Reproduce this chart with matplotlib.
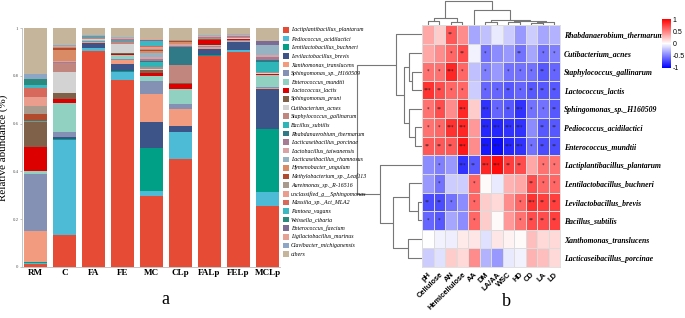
import numpy as np
import matplotlib
matplotlib.use("Agg")
import matplotlib.pyplot as plt
from matplotlib.patches import Rectangle

# ---------------- data: panel a ----------------
samples = ["RM", "C", "FA", "FE", "MC", "CLp", "FALp", "FELp", "MCLp"]
species = [
    "Lactiplantibacillus_plantarum", "Pediococcus_acidilactici", "Lentilactobacillus_buchneri",
    "Levilactobacillus_brevis", "Xanthomonas_translucens", "Sphingomonas_sp._H160509",
    "Enterococcus_mundtii", "Lactococcus_lactis", "Sphingomonas_pruni", "Cutibacterium_acnes",
    "Staphylococcus_gallinarum", "Bacillus_subtilis", "Rhabdanaerobium_thermarum",
    "Lacticaseibacillus_porcinae", "Lactobacillus_taiwanensis", "Lacticaseibacillus_rhamnosus",
    "Hymenobacter_ungulum", "Methylobacterium_sp._Leaf113", "Aureimonas_sp._R-16516",
    "unclassified_g__Sphingomonas", "Massilia_sp._Act_MLA2", "Pantoea_vagans",
    "Weissella_cibaria", "Enterococcus_faecium", "Ligilactobacillus_murinus",
    "Clavibacter_michiganensis", "others",
]
colors = [
    "#E64B35", "#4DBBD5", "#00A087", "#3C5488", "#F39B7F", "#8491B4", "#91D1C2", "#DC0000",
    "#7E6148", "#D3D3D3", "#C1877F", "#2EB5B8", "#2F7A86", "#A57C93", "#D9A3A5", "#95B3C3",
    "#D98B65", "#B24A2E", "#A89A8C", "#EA9D8C", "#D6695B", "#3CB8C2", "#2A8A7E", "#7C6B95",
    "#E5A294", "#8EA6C5", "#C5B59A",
]
RM   = [0.012, 0.003, 0.008, 0.000, 0.127, 0.241, 0.010, 0.100, 0.106, 0.000, 0.000, 0.003, 0.000, 0.000,
        0.000, 0.000, 0.000, 0.030, 0.035, 0.038, 0.036, 0.014, 0.025, 0.000, 0.000, 0.020, 0.192]
C    = [0.134, 0.396, 0.005, 0.007, 0.004, 0.018, 0.121, 0.020, 0.022, 0.089, 0.036, 0.000, 0.000, 0.005,
        0.005, 0.000, 0.046, 0.010, 0.004, 0.003, 0.000, 0.000, 0.000, 0.000, 0.000, 0.004, 0.071]
FA   = [0.902, 0.014, 0.002, 0.020, 0.004, 0.003, 0.004, 0.000, 0.000, 0.006, 0.004, 0.002, 0.002, 0.002,
        0.003, 0.003, 0.000, 0.000, 0.000, 0.000, 0.000, 0.000, 0.000, 0.000, 0.000, 0.000, 0.029]
FE   = [0.784, 0.031, 0.007, 0.029, 0.015, 0.004, 0.018, 0.004, 0.002, 0.038, 0.010, 0.002, 0.002, 0.006,
        0.005, 0.005, 0.000, 0.000, 0.000, 0.000, 0.000, 0.000, 0.000, 0.000, 0.000, 0.000, 0.038]
MC   = [0.298, 0.021, 0.177, 0.109, 0.120, 0.054, 0.021, 0.013, 0.012, 0.004, 0.006, 0.022, 0.004, 0.008,
        0.008, 0.020, 0.008, 0.005, 0.004, 0.006, 0.006, 0.018, 0.003, 0.003, 0.003, 0.003, 0.044]
CLp  = [0.452, 0.112, 0.000, 0.024, 0.075, 0.021, 0.059, 0.022, 0.005, 0.000, 0.075, 0.000, 0.077, 0.004,
        0.005, 0.004, 0.006, 0.004, 0.003, 0.003, 0.000, 0.000, 0.000, 0.000, 0.000, 0.000, 0.049]
FALp = [0.881, 0.000, 0.005, 0.025, 0.011, 0.004, 0.003, 0.020, 0.004, 0.003, 0.004, 0.000, 0.000, 0.004,
        0.004, 0.003, 0.000, 0.000, 0.000, 0.000, 0.000, 0.000, 0.000, 0.000, 0.000, 0.000, 0.029]
FELp = [0.898, 0.008, 0.002, 0.033, 0.003, 0.004, 0.003, 0.002, 0.000, 0.004, 0.005, 0.000, 0.000, 0.004,
        0.005, 0.004, 0.000, 0.000, 0.000, 0.000, 0.000, 0.000, 0.000, 0.000, 0.000, 0.000, 0.025]
MCLp = [0.257, 0.057, 0.264, 0.166, 0.003, 0.006, 0.050, 0.003, 0.003, 0.002, 0.003, 0.045, 0.008, 0.010,
        0.012, 0.038, 0.000, 0.000, 0.000, 0.000, 0.000, 0.000, 0.000, 0.018, 0.000, 0.000, 0.055]
ab_ticks = [0, 0.2, 0.4, 0.6, 0.8, 1]
ab_ticklabels = ["0", "0.2", "0.4", "0.6", "0.8", "1"]

# ---------------- data: panel b ----------------
hm_rows = [
    "Rhabdanaerobium_thermarum", "Cutibacterium_acnes", "Staphylococcus_gallinarum",
    "Lactococcus_lactis", "Sphingomonas_sp._H160509", "Pediococcus_acidilactici",
    "Enterococcus_mundtii", "Lactiplantibacillus_plantarum", "Lentilactobacillus_buchneri",
    "Levilactobacillus_brevis", "Bacillus_subtilis", "Xanthomonas_translucens",
    "Lacticaseibacillus_porcinae",
]
hm_cols = ["pH", "Cellulose", "AN", "Hemicellulose", "AA", "DM", "LA/AA", "WSC", "HD", "CD", "LA", "LD"]
corr = [
    [0.35, 0.20, 0.65, 0.45, -0.35, -0.25, -0.08, -0.20, -0.40, -0.20, -0.35, -0.30],
    [0.35, 0.45, 0.60, 0.70, -0.05, -0.55, -0.45, -0.40, -0.55, -0.35, -0.55, -0.50],
    [0.55, 0.55, 0.85, 0.60, -0.25, -0.50, -0.40, -0.55, -0.55, -0.55, -0.65, -0.60],
    [0.80, 0.70, 0.60, 0.60, -0.20, -0.60, -0.60, -0.65, -0.60, -0.65, -0.65, -0.65],
    [0.55, 0.70, 0.45, 0.85, 0.20, -0.80, -0.60, -0.65, -0.80, -0.55, -0.55, -0.65],
    [0.55, 0.60, 0.80, 0.85, 0.40, -0.85, -0.85, -0.80, -0.80, -0.45, -0.65, -0.65],
    [0.65, 0.65, 0.65, 0.90, 0.45, -0.90, -0.95, -0.85, -0.80, -0.55, -0.70, -0.70],
    [-0.45, -0.50, -0.40, -0.80, -0.65, 0.85, 0.95, 0.75, 0.70, 0.35, 0.55, 0.55],
    [-0.40, -0.55, -0.20, -0.20, 0.60, 0.02, -0.08, 0.30, 0.35, 0.70, 0.60, 0.60],
    [-0.70, -0.70, -0.55, -0.45, 0.60, 0.20, 0.15, 0.45, 0.60, 0.80, 0.75, 0.75],
    [-0.60, -0.65, -0.35, -0.45, 0.60, 0.20, 0.02, 0.40, 0.55, 0.70, 0.70, 0.75],
    [0.00, -0.05, -0.07, 0.08, 0.10, -0.12, 0.10, 0.05, 0.02, 0.25, 0.15, 0.15],
    [-0.20, -0.12, 0.20, 0.15, 0.45, -0.30, -0.40, -0.08, -0.05, 0.30, 0.25, 0.15],
]
stars = [
    ["", "", "**", "", "", "", "", "", "", "", "", ""],
    ["", "", "*", "**", "", "*", "", "", "**", "", "*", "*"],
    ["*", "*", "***", "*", "", "*", "", "*", "*", "*", "**", "*"],
    ["***", "**", "*", "*", "", "*", "*", "**", "*", "**", "**", "**"],
    ["*", "**", "", "***", "", "***", "*", "**", "***", "*", "*", "**"],
    ["*", "*", "***", "***", "", "***", "***", "***", "***", "", "**", "**"],
    ["**", "**", "**", "***", "", "***", "***", "***", "***", "*", "**", "**"],
    ["", "*", "", "***", "**", "***", "***", "**", "**", "", "*", "*"],
    ["", "*", "", "", "*", "", "", "", "", "**", "*", "*"],
    ["**", "**", "*", "", "*", "", "", "", "*", "***", "**", "**"],
    ["*", "*", "", "", "*", "", "", "", "*", "**", "**", "**"],
    ["", "", "", "", "", "", "", "", "", "", "", ""],
    ["", "", "", "", "", "", "", "", "", "", "", ""],
]
# dendrograms as (height, left, right) trees; leaves are row/column indices
row_tree = (65, (26, 0, (18, (13, 1, (10, 2, 3)), (13, 4, (7, 5, 6)))),
            (42, 7, (29, (13, 8, (4, 9, 10)), (14, 11, 12))))
col_tree = (24, (7, (4, 0, 1), (3.5, 2, 3)),
            (15, 4, (5, (3, 5, 6), (4.2, (3.5, 7, 8), (3, (2, 9, 10), 11)))))
cbar_ticks = [1, 0.5, 0, -0.5, -1]

# ---------------- figure ----------------
W, H = 685, 318
fig = plt.figure(figsize=(W / 100, H / 100), dpi=100)

def fax(x0, y0, x1, y1):
    return fig.add_axes([x0 / W, 1 - y1 / H, (x1 - x0) / W, (y1 - y0) / H])

serif = "Liberation Serif"

# ---- panel a ----
ax = fax(22, 28, 280, 267)
data = [RM, C, FA, FE, MC, CLp, FALp, FELp, MCLp]
vals = np.array(data).T  # species x samples
x = np.arange(len(samples))
bottom = np.zeros(len(samples))
for i, sp in enumerate(species):
    ax.bar(x, vals[i], 0.79, bottom=bottom, color=colors[i], linewidth=0, label=sp)
    bottom += vals[i]
ax.set_xlim(-0.47, 8.43)
ax.set_ylim(0, 1)
ax.set_yticks(ab_ticks)
ax.set_yticklabels(ab_ticklabels, fontsize=3.5, color="#555555", family=serif)
ax.set_xticks(x)
ax.set_xticklabels(samples, fontsize=6.5, fontweight="bold", family=serif)
ax.tick_params(axis="y", length=1.5, width=0.4, color="#999999", pad=1)
ax.tick_params(axis="x", length=0, pad=1.5)
for s in ["top", "right"]:
    ax.spines[s].set_visible(False)
for s in ["left", "bottom"]:
    ax.spines[s].set_color("#bbbbbb")
    ax.spines[s].set_linewidth(0.6)
ax.set_ylabel("Relative abundance (%)", fontsize=8, family=serif, labelpad=3)

# legend
y0, dy = 30, 8.62
for i, sp in enumerate(species):
    yc = y0 + i * dy
    fig.patches.append(Rectangle((283 / W, 1 - (yc + 2.8) / H), 5.5 / W, 5.6 / H,
                                 transform=fig.transFigure, color=colors[i], lw=0))
    fig.text(291 / W, 1 - yc / H, sp, fontsize=4.2, family=serif, style="italic",
             va="center", ha="left")

fig.text(165 / W, 1 - 300 / H, "a", fontsize=13, family=serif, ha="center", va="center")

# ---- panel b ----
hm = np.array(corr)
nr, nc = hm.shape
axh = fax(422, 25, 560, 267)
mesh = axh.pcolormesh(np.arange(nc + 1), np.arange(nr + 1), hm, cmap="bwr", vmin=-1, vmax=1,
                      edgecolors="#dcdcdc", linewidth=0.5)
axh.set_xlim(0, nc)
axh.set_ylim(nr, 0)
for r in range(nr):
    for c in range(nc):
        if stars[r][c]:
            axh.text(c + 0.5, r + 0.5, stars[r][c], ha="center", va="center", fontsize=3.6,
                     color="#222222")
axh.yaxis.tick_right()
axh.set_yticks(np.arange(nr) + 0.5)
axh.set_yticklabels(hm_rows, fontsize=5.6, family=serif, style="italic", fontweight="bold")
axh.set_xticks(np.arange(nc) + 0.5)
axh.set_xticklabels(hm_cols, fontsize=5.4, family="Liberation Sans", fontweight="bold",
                    rotation=45, ha="right", rotation_mode="anchor")
axh.tick_params(length=0, pad=3)
for s in axh.spines.values():
    s.set_color("#dcdcdc")
    s.set_linewidth(0.6)

line_kw = dict(color="#777777", lw=0.8, solid_capstyle="butt")

def draw_tree(axd, node, orient):
    if not isinstance(node, tuple):
        return node + 0.5, 0.0
    h, l, r = node
    pl, hl = draw_tree(axd, l, orient)
    pr, hr = draw_tree(axd, r, orient)
    if orient == "row":
        axd.plot([hl, h, h, hr], [pl, pl, pr, pr], **line_kw)
    else:
        axd.plot([pl, pl, pr, pr], [hl, h, h, hr], **line_kw)
    return (pl + pr) / 2, h

axr = fax(355, 25, 422, 267)
draw_tree(axr, row_tree, "row")
axr.set_xlim(67, 0)
axr.set_ylim(nr, 0)
axr.axis("off")

axc = fax(422, 0, 560, 25)
draw_tree(axc, col_tree, "col")
axc.set_xlim(0, nc)
axc.set_ylim(0, 25)
axc.axis("off")

cax = fax(662, 19, 671, 68)
cb = fig.colorbar(mesh, cax=cax, ticks=cbar_ticks)
cb.ax.set_yticklabels([str(t) for t in cbar_ticks], fontsize=5, family="Liberation Sans")
cb.ax.tick_params(length=0, pad=1)
cb.outline.set_visible(False)

fig.text(506 / W, 1 - 302 / H, "b", fontsize=13, family=serif, ha="center", va="center")

fig.savefig("out.png", dpi=100)
